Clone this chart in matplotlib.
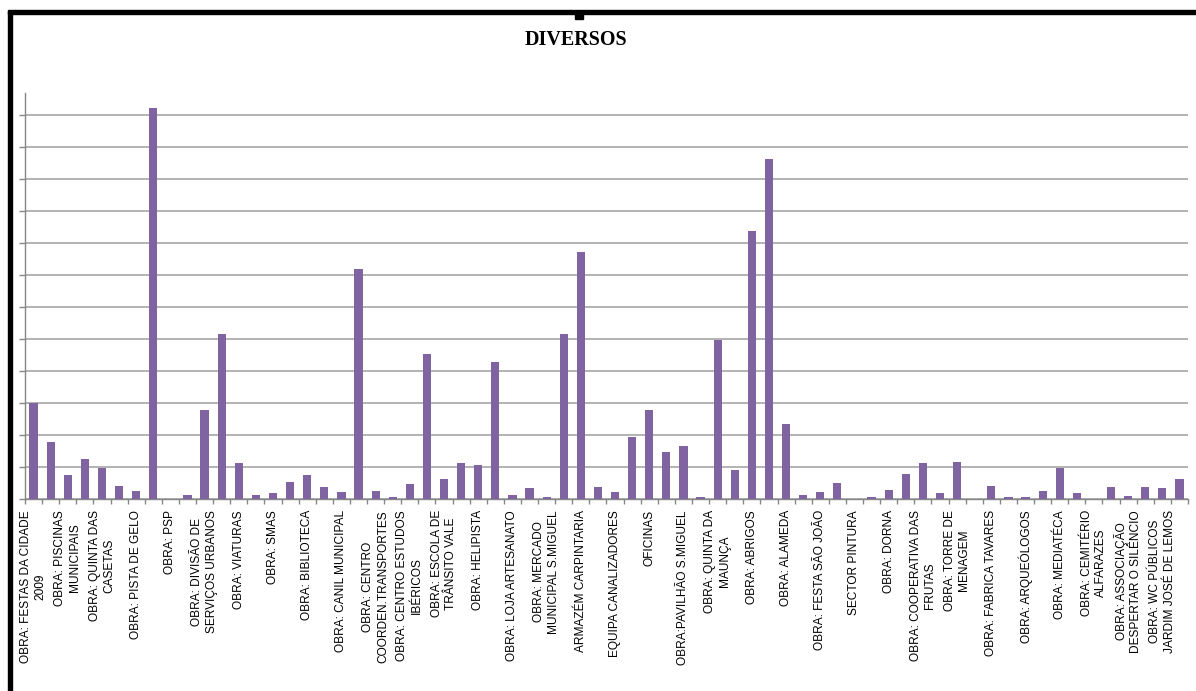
import matplotlib.pyplot as plt
import numpy as np
from matplotlib.patches import Rectangle
from matplotlib.ticker import FixedLocator, NullFormatter

# every other category is named on the axis, the odd ones are hidden in the original
labels = [
    "OBRA: FESTAS DA CIDADE\n2009", "",
    "OBRA: PISCINAS\nMUNICIPAIS", "",
    "OBRA: QUINTA DAS\nCASETAS", "",
    "OBRA: PISTA DE GELO", "",
    "OBRA: PSP", "",
    "OBRA: DIVISÃO DE\nSERVIÇOS URBANOS", "",
    "OBRA: VIATURAS", "",
    "OBRA: SMAS", "",
    "OBRA: BIBLIOTECA", "",
    "OBRA: CANIL MUNICIPAL", "",
    "OBRA: CENTRO\nCOORDEN.TRANSPORTES", "",
    "OBRA: CENTRO ESTUDOS\nIBÉRICOS", "",
    "OBRA: ESCOLA DE\nTRÂNSITO VALE", "",
    "OBRA: HELIPISTA", "",
    "OBRA: LOJA ARTESANATO", "",
    "OBRA: MERCADO\nMUNICIPAL S.MIGUEL", "",
    "ARMAZÉM CARPINTARIA", "",
    "EQUIPA CANALIZADORES", "",
    "OFICINAS", "",
    "OBRA:PAVILHÃO S.MIGUEL", "",
    "OBRA: QUINTA DA\nMAUNÇA", "",
    "OBRA: ABRIGOS", "",
    "OBRA: ALAMEDA", "",
    "OBRA: FESTA SÃO JOÃO", "",
    "SECTOR PINTURA", "",
    "OBRA: DORNA", "",
    "OBRA: COOPERATIVA DAS\nFRUTAS", "",
    "OBRA: TORRE DE\nMENAGEM", "",
    "OBRA: FABRICA TAVARES", "",
    "OBRA: ARQUEÓLOGOS", "",
    "OBRA: MEDIATÉCA", "",
    "OBRA: CEMITÉRIO\nALFARAZES", "",
    "OBRA: ASSOCIAÇÃO\nDESPERTAR O SILÊNCIO", "",
    "OBRA: WC PÚBLICOS\nJARDIM JOSÉ DE LEMOS", "",
]

# values, in gridline units (no scale shown)
values = [
    2.99, 1.77, 0.75, 1.24, 0.98, 0.42, 0.25, 12.21, 0.0, 0.125,
    2.78, 5.15, 1.12, 0.125, 0.18, 0.54, 0.75, 0.37, 0.21, 7.19,
    0.25, 0.05, 0.46, 4.54, 0.625, 1.12, 1.06, 4.29, 0.125, 0.33,
    0.05, 5.15, 7.72, 0.37, 0.21, 1.93, 2.78, 1.48, 1.67, 0.05,
    4.98, 0.91, 8.375, 10.62, 2.33, 0.125, 0.21, 0.49, 0.0, 0.05,
    0.29, 0.78, 1.12, 0.18, 1.15, 0.0, 0.42, 0.05, 0.05, 0.25,
    0.98, 0.18, 0.0, 0.37, 0.08, 0.37, 0.33, 0.625,
]

W, H = 1196, 691
fig = plt.figure(figsize=(W / 100, H / 100), dpi=100)
fig.patch.set_facecolor("white")

ax = fig.add_axes([25 / W, (H - 499) / H, 1163 / W, 406 / H])

x = np.arange(len(values))
ax.bar(x, values, width=0.48, color="#8064A2", zorder=3)

ax.set_xlim(-0.5, len(values) - 0.5)
ax.set_ylim(0, 12.69)

grey = "#868686"
for s in ["top", "right"]:
    ax.spines[s].set_visible(False)
for s in ["left", "bottom"]:
    ax.spines[s].set_color(grey)
    ax.spines[s].set_linewidth(1.0)

ax.yaxis.set_major_locator(FixedLocator(np.arange(0, 13)))
ax.yaxis.set_major_formatter(NullFormatter())
ax.tick_params(axis="y", which="major", length=4.5, color=grey, width=1.0)
ax.grid(axis="y", color="#acacac", linewidth=1.3, zorder=0)

ax.set_xticks(x)
ax.set_xticklabels(labels, rotation=90, fontsize=8.6, family="Liberation Sans",
                   ha="center", va="top", multialignment="center", linespacing=1.3)
ax.tick_params(axis="x", which="major", length=0, pad=8)
ax.xaxis.set_minor_locator(FixedLocator(np.arange(-0.5, len(values), 1.0)))
ax.tick_params(axis="x", which="minor", length=3.6, color=grey, width=1.0)

fig.text(576 / W, 1 - 40 / H, "DIVERSOS", ha="center", va="center",
         fontsize=14.5, fontweight="bold", family="Liberation Serif")

# chart frame (top and left edges) and the selection handle
fig.patches.append(Rectangle((8 / W, 1 - 14 / H), 1 - 8 / W, 3.5 / H,
                             transform=fig.transFigure, color="black", zorder=10))
fig.patches.append(Rectangle((8 / W, 0), 4 / W, 1 - 11 / H,
                             transform=fig.transFigure, color="black", zorder=10))
fig.patches.append(Rectangle((575 / W, 1 - 19 / H), 8 / W, 6 / H,
                             transform=fig.transFigure, color="black", zorder=10))

fig.savefig("out.png", dpi=100)
